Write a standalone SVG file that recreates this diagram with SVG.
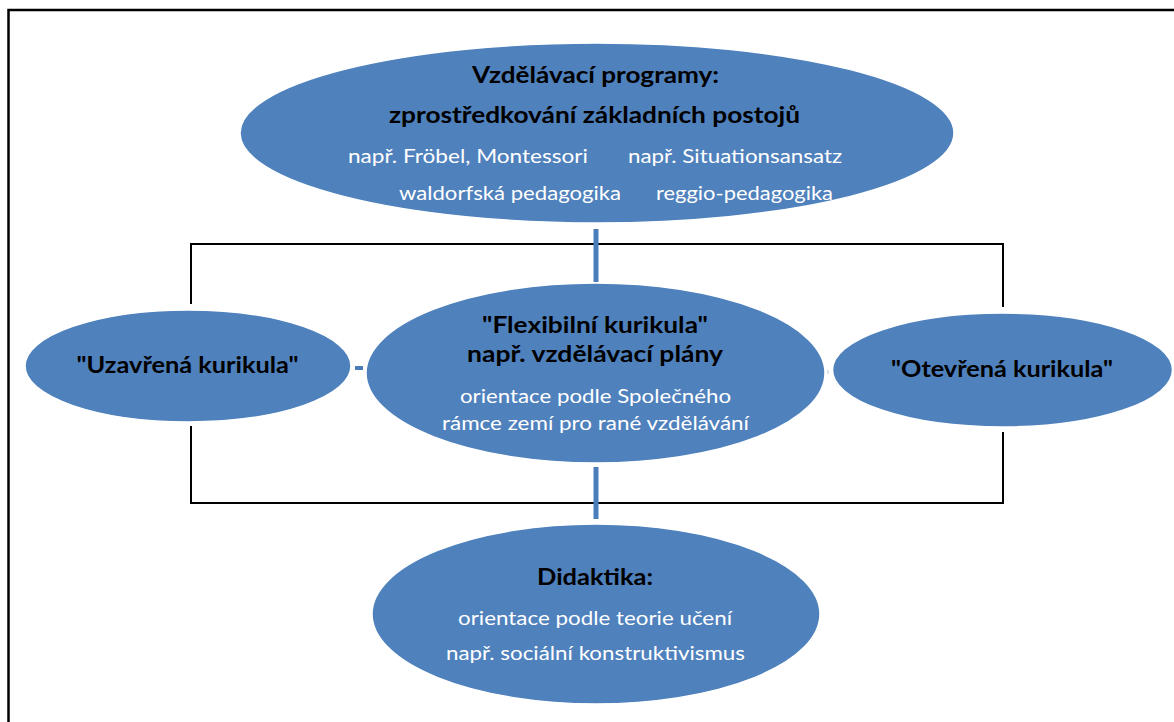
<svg xmlns="http://www.w3.org/2000/svg" width="1174" height="722" viewBox="0 0 1174 722">
<style>
.node{fill:#4F81BD;stroke:#ffffff;stroke-width:1.5}
.b{font-family:Lato,"Open Sans","Liberation Sans",sans-serif;font-weight:bold;font-size:22.5px;fill:#000000;text-anchor:middle}
.w{font-family:Lato,"Open Sans","Liberation Sans",sans-serif;font-size:19.5px;fill:#ffffff}
.m{text-anchor:middle}
.brk{fill:none;stroke:#000000;stroke-width:2}
.blue{stroke:#4A7DBA;stroke-width:5;fill:none}
</style>
<rect x="0" y="0" width="1174" height="722" fill="#ffffff"/>
<path d="M8.5 722 V10 H1174" fill="none" stroke="#000000" stroke-width="2.5"/>
<g id="connectors">
<path class="brk" d="M191 304 V244 H1003 V307"/>
<path class="brk" d="M191 426 V503 H1003 V432"/>
<line class="blue" x1="596" y1="229" x2="596" y2="282"/>
<line class="blue" x1="596" y1="467" x2="596" y2="519"/>
<line x1="355" y1="368" x2="363" y2="368" stroke="#4A7DBA" stroke-width="4"/>
<line x1="828" y1="370" x2="828" y2="374" stroke="#b8c8de" stroke-width="1"/>
</g>
<g id="top">
<ellipse class="node" cx="597" cy="133" rx="357" ry="90"/>
<text class="b" x="595.5" y="83" textLength="247" lengthAdjust="spacingAndGlyphs">Vzdělávací programy:</text>
<text class="b" x="594.5" y="123" textLength="411" lengthAdjust="spacingAndGlyphs">zprostředkování základních postojů</text>
<text class="w" x="348" y="163" textLength="240" lengthAdjust="spacingAndGlyphs">např. Fröbel, Montessori</text>
<text class="w" x="628" y="163" textLength="214" lengthAdjust="spacingAndGlyphs">např. Situationsansatz</text>
<text class="w" x="399" y="200" textLength="222" lengthAdjust="spacingAndGlyphs">waldorfská pedagogika</text>
<text class="w" x="656" y="200" textLength="177" lengthAdjust="spacingAndGlyphs">reggio-pedagogika</text>
</g>
<g id="left">
<ellipse class="node" cx="188" cy="366" rx="163" ry="56"/>
<text class="b" x="187.5" y="373" textLength="222" lengthAdjust="spacingAndGlyphs">"Uzavřená kurikula"</text>
</g>
<g id="center">
<ellipse class="node" cx="595.5" cy="373" rx="229.5" ry="90"/>
<text class="b" x="595" y="333" textLength="226" lengthAdjust="spacingAndGlyphs">"Flexibilní kurikula"</text>
<text class="b" x="595" y="362" textLength="256" lengthAdjust="spacingAndGlyphs">např. vzdělávací plány</text>
<text class="w m" x="595.5" y="403" textLength="271" lengthAdjust="spacingAndGlyphs">orientace podle Společného</text>
<text class="w m" x="595.5" y="430" textLength="307" lengthAdjust="spacingAndGlyphs">rámce zemí pro rané vzdělávání</text>
</g>
<g id="right">
<ellipse class="node" cx="1002.5" cy="370" rx="170" ry="57"/>
<text class="b" x="1002" y="377" textLength="222" lengthAdjust="spacingAndGlyphs">"Otevřená kurikula"</text>
</g>
<g id="bottom">
<ellipse class="node" cx="596" cy="614" rx="224" ry="90"/>
<text class="b" x="595" y="585" textLength="116" lengthAdjust="spacingAndGlyphs">Didaktika:</text>
<text class="w m" x="595" y="625" textLength="274" lengthAdjust="spacingAndGlyphs">orientace podle teorie učení</text>
<text class="w m" x="595.5" y="660" textLength="299" lengthAdjust="spacingAndGlyphs">např. sociální konstruktivismus</text>
</g>
</svg>
